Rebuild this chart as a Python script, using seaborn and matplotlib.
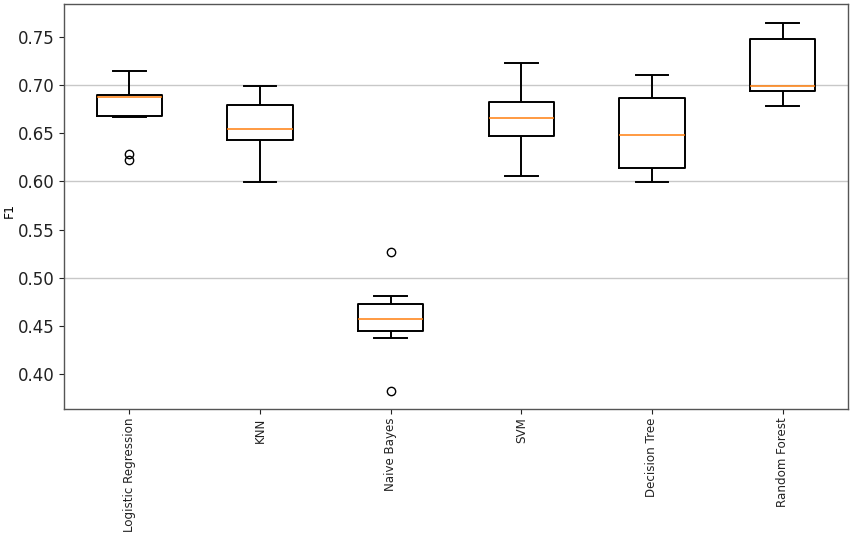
import numpy as np
import pandas as pd
import seaborn as sns
import matplotlib
matplotlib.use("Agg")
import matplotlib.pyplot as plt

# --- data: F1 scores per model (10 runs each) ---
models = ["Logistic Regression", "KNN", "Naive Bayes", "SVM", "Decision Tree", "Random Forest"]

f1_logreg = [0.622, 0.629, 0.667, 0.673, 0.687, 0.689, 0.6895, 0.6902, 0.705, 0.7145]
f1_knn = [0.599, 0.632, 0.642, 0.6484, 0.651, 0.6576, 0.676, 0.6813, 0.690, 0.699]
f1_nb = [0.382, 0.4376, 0.443, 0.449, 0.453, 0.4604, 0.470, 0.4731, 0.481, 0.5263]
f1_svm = [0.6058, 0.635, 0.646, 0.6516, 0.662, 0.6694, 0.681, 0.6837, 0.699, 0.7232]
f1_dt = [0.599, 0.607, 0.612, 0.622, 0.641, 0.6566, 0.683, 0.6886, 0.699, 0.7104]
f1_rf = [0.678, 0.688, 0.694, 0.696, 0.6985, 0.7001, 0.746, 0.7487, 0.755, 0.7644]

scores = [f1_logreg, f1_knn, f1_nb, f1_svm, f1_dt, f1_rf]
df = pd.DataFrame({
    "Model": np.repeat(models, [len(s) for s in scores]),
    "F1": np.concatenate(scores),
})

fig = plt.figure(figsize=(8.5, 5.41), dpi=100)
ax = fig.add_axes([0.0753, 0.244, 0.9223, 0.7486])

sns.boxplot(
    data=df, x="Model", y="F1", order=models, ax=ax,
    fill=False, color="black", width=0.5, linewidth=1.4,
    medianprops=dict(color="#ff7f0e", linewidth=1.1),
    flierprops=dict(marker="o", markerfacecolor="none", markeredgecolor="black",
                    markersize=6, markeredgewidth=1.0),
)

ax.set_ylim(0.3633, 0.7846)
ax.set_xlim(-0.5, 5.5)
ax.set_yticks([0.40, 0.45, 0.50, 0.55, 0.60, 0.65, 0.70, 0.75])
ax.set_yticklabels(["0.40", "0.45", "0.50", "0.55", "0.60", "0.65", "0.70", "0.75"])

# only the 0.5 / 0.6 / 0.7 grid lines are visible in the reference
for val in [0.50, 0.60, 0.70]:
    ax.axhline(val, color="#c8c8c8", linewidth=1.0, zorder=0)

ax.set_xlabel("")
ax.set_ylabel("F1", fontsize=9)
ax.yaxis.set_label_coords(-0.062, 0.49)
ax.tick_params(axis="y", labelsize=12, length=3.5, colors="#222222")
ax.tick_params(axis="x", labelsize=8.6, length=3.5, pad=2.5, rotation=90, colors="#222222")
for sp in ax.spines.values():
    sp.set_color("#555555")
    sp.set_linewidth(1.0)

fig.savefig("out.png", dpi=100)
